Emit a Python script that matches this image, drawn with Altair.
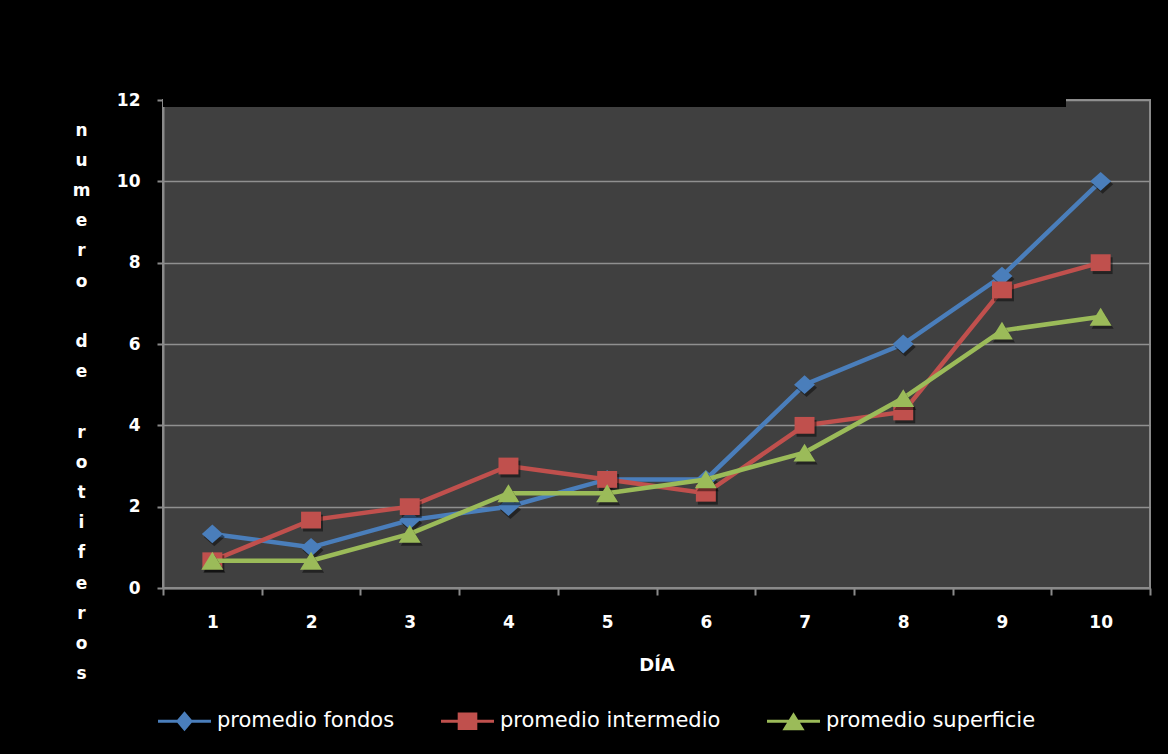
import altair as alt
import pandas as pd

# Día de muestreo
dias = [1, 2, 3, 4, 5, 6, 7, 8, 9, 10]

# Promedio de rotíferos por profundidad
fondos = [1.33, 1.0, 1.67, 2.0, 2.67, 2.67, 5.0, 6.0, 7.67, 10.0]
intermedio = [0.67, 1.67, 2.0, 3.0, 2.67, 2.33, 4.0, 4.33, 7.33, 8.0]
superficie = [0.67, 0.67, 1.33, 2.33, 2.33, 2.67, 3.33, 4.67, 6.33, 6.67]

series = ["promedio fondos", "promedio intermedio", "promedio superficie"]
colores = ["#4a7ebb", "#c0504d", "#9bbb59"]

# Marcadores (rombo, cuadrado, triángulo) en caja unitaria
marcadores = [
    "M0,-0.9L1,0L0,0.9L-1,0Z",
    "M-0.95,-0.8H0.95V0.8H-0.95Z",
    "M0,-0.85L1.05,0.85H-1.05Z",
]
# Símbolos de leyenda: trazo de línea con el marcador encima
simbolos_leyenda = [
    "M-1,-0.06H1V0.06H-1Z M0,-0.38L0.32,0L0,0.38L-0.32,0Z",
    "M-1,-0.06H1V0.06H-1Z M-0.37,-0.33H0.37V0.33H-0.37Z",
    "M-1,-0.06H1V0.06H-1Z M0,-0.34L0.42,0.34H-0.42Z",
]

rows = []
for nombre, valores in zip(series, [fondos, intermedio, superficie]):
    for d, v in zip(dias, valores):
        rows.append({"dia": d, "valor": v, "serie": nombre})
df = pd.DataFrame(rows)

# Título del eje Y apilado letra a letra (líneas en blanco con espacio de ancho cero)
BLANCO = "\u200b"
titulo_y = list("numero") + [BLANCO] + list("de") + [BLANCO] + list("rotiferos")

FONT = "DejaVu Sans"
AXIS_GRAY = "#8a8a8a"

x_enc = alt.X(
    "dia:O",
    bandPosition=0.5,
    scale=alt.Scale(type="band", domain=dias, paddingInner=0, paddingOuter=0),
    axis=alt.Axis(
        title="DÍA",
        labelAngle=0,
        tickBand="extent",
        tickSize=7,
        tickWidth=2,
        tickColor=AXIS_GRAY,
        domainColor=AXIS_GRAY,
        domainWidth=2,
        labelColor="white",
        labelFont=FONT,
        labelFontSize=17,
        labelFontWeight="bold",
        labelPadding=19,
        titleColor="white",
        titleFont=FONT,
        titleFontSize=18,
        titleFontWeight="bold",
        titleBaseline="alphabetic",
        titleY=82,
        grid=False,
    ),
)

y_enc = alt.Y(
    "valor:Q",
    scale=alt.Scale(domain=[0, 12], nice=False, zero=True),
    axis=alt.Axis(
        values=[0, 2, 4, 6, 8, 10, 12],
        title=titulo_y,
        titleAngle=0,
        titleAlign="center",
        titleBaseline="middle",
        titleX=-82,
        titleY=30,
        titleLineHeight=30.2,
        titleColor="white",
        titleFont=FONT,
        titleFontSize=17,
        titleFontWeight="bold",
        grid=True,
        gridColor="#909090",
        gridWidth=1.5,
        tickSize=6,
        tickWidth=2,
        tickColor=AXIS_GRAY,
        domainColor=AXIS_GRAY,
        domainWidth=2,
        labelColor="white",
        labelFont=FONT,
        labelFontSize=17,
        labelFontWeight="bold",
        labelPadding=17,
    ),
)

base = alt.Chart(df)

# Cada serie: línea, sombra de los marcadores y marcadores
capas_series = []
for nombre, color, forma in zip(series, colores, marcadores):
    datos_serie = base.transform_filter(alt.datum.serie == nombre)
    linea = datos_serie.mark_line(strokeWidth=4.5, color=color).encode(x=x_enc, y=y_enc)
    sombra = datos_serie.mark_point(
        shape=forma, filled=True, color="black", opacity=0.45, size=441,
        strokeWidth=0, xOffset=2, yOffset=3,
    ).encode(x=x_enc, y=y_enc)
    marca = datos_serie.mark_point(
        shape=forma, filled=True, color=color, opacity=1, size=441, strokeWidth=0,
    ).encode(x=x_enc, y=y_enc)
    capas_series += [linea, sombra, marca]

leyenda_cfg = dict(
    title=None,
    orient="none",
    legendX=-5,
    legendY=594.5,
    direction="horizontal",
    symbolSize=2809,
    symbolStrokeWidth=0,
    labelColor="white",
    labelFont=FONT,
    labelFontSize=21,
    labelOffset=6,
    labelLimit=400,
    columnPadding=46,
    padding=0,
)

# Capa sin filas que solo aporta la leyenda (línea + marcador)
leyenda = base.transform_filter("false").mark_point(filled=True, opacity=1, strokeWidth=0).encode(
    x=x_enc,
    y=y_enc,
    color=alt.Color("serie:N", scale=alt.Scale(domain=series, range=colores),
                    legend=alt.Legend(**leyenda_cfg)),
    shape=alt.Shape("serie:N", scale=alt.Scale(domain=series, range=simbolos_leyenda),
                    legend=alt.Legend(**leyenda_cfg)),
)

franja = alt.Chart(alt.Data(values=[{"k": 0}])).mark_rect(color="black").encode(
    x=alt.value(0), x2=alt.value(903), y=alt.value(-1), y2=alt.value(7)
)

chart = (
    alt.layer(*capas_series, leyenda, franja)
    .properties(
        width=987,
        height=488,
        autosize=alt.AutoSizeParams(type="none"),
        padding={"left": 163, "top": 100, "right": 18, "bottom": 166},
        background="black",
    )
    .configure_view(fill="#404040", stroke=AXIS_GRAY, strokeWidth=2)
)

chart.save("out.html", embed_options={"renderer": "svg", "actions": False})
